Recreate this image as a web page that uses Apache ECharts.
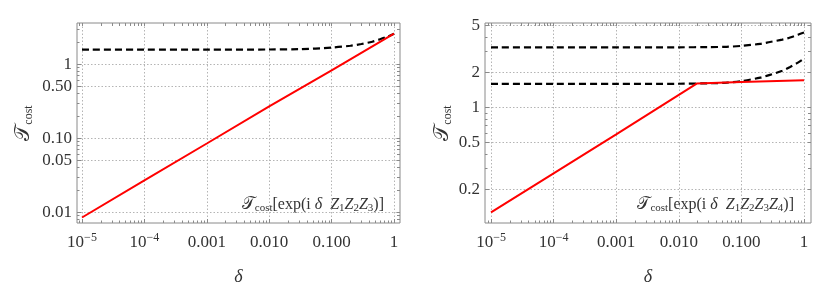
<!DOCTYPE html>
<html><head><meta charset="utf-8">
<script src="https://cdn.jsdelivr.net/npm/echarts@6/dist/echarts.min.js"></script>
<style>html,body{margin:0;padding:0;background:#fff}#c{width:830px;height:300px}</style>
</head><body><div id="c"></div>
<script>
// ---- tick definitions ----
const xTicks = [1e-5, 1e-4, 1e-3, 1e-2, 0.1, 1];
const xTickLabels = ['10{s|\u22125}', '10{s|\u22124}', '0.001', '0.010', '0.100', '1'];
const yTicksL = [0.01, 0.05, 0.1, 0.5, 1];
const yTickLabelsL = ['0.01', '0.05', '0.10', '0.50', '1'];
const yTicksR = [0.2, 0.5, 1, 2, 5];
const yTickLabelsR = ['0.2', '0.5', '1', '2', '5'];

// ---- data ----
const deltaRedL = [1e-5, 1e-4, 1e-3, 1e-2, 0.1, 1];
const costRedL = [0.0085, 0.027, 0.085, 0.27, 0.83, 2.6];
const deltaDashL = [1e-5, 1e-4, 1e-3, 1e-2, 0.03, 0.1, 0.2, 0.3, 0.45, 0.6, 0.8, 1];
const costDashL = [1.58, 1.58, 1.58, 1.585, 1.60, 1.68, 1.78, 1.88, 2.02, 2.18, 2.38, 2.58];

const deltaRedR = [1e-5, 1e-4, 1e-3, 0.0193, 0.1, 1];
const costRedR = [0.127, 0.274, 0.59, 1.60, 1.65, 1.71];
const deltaDashR = [1e-5, 1e-4, 1e-3, 1e-2, 0.03, 0.058, 0.1, 0.2, 0.286, 0.45, 0.6, 0.8, 1];
const costDashR1 = [1.59, 1.59, 1.59, 1.595, 1.61, 1.63, 1.68, 1.80, 1.90, 2.06, 2.22, 2.42, 2.62];
const costDashR2 = [3.27, 3.27, 3.27, 3.27, 3.28, 3.30, 3.36, 3.50, 3.63, 3.80, 3.96, 4.18, 4.37];

const FONT = '"Liberation Serif", "DejaVu Serif", serif';
const GRIDC = '#b4b4b4';
const FRAMEC = '#8a8a8a';
const LABC = '#333';

function minorTicks(lo, hi) {
  const out = [];
  for (let e = lo; e <= hi; e++) for (let k = 2; k <= 9; k++) out.push(k * Math.pow(10, e));
  return out;
}
const xMinor = minorTicks(-6, 0);
const yMinor = minorTicks(-3, 0);

function fmt(vals, labs) {
  return function (v) {
    for (let i = 0; i < vals.length; i++) if (Math.abs(v / vals[i] - 1) < 1e-6) return labs[i];
    for (let i = 0; i < vals.length; i++) if (Math.abs(Math.pow(10, v) / vals[i] - 1) < 1e-6) return labs[i];
    return '';
  };
}
function pairs(xs, ys) { return xs.map((x, i) => [x, ys[i]]); }

const grids = [
  { left: 77, top: 23, width: 323, height: 200, show: true, borderColor: FRAMEC, borderWidth: 1 },
  { left: 485, top: 23, width: 326, height: 200, show: true, borderColor: FRAMEC, borderWidth: 1 }
];
const xExt = [[Math.pow(10, -5.08), Math.pow(10, 0.096)], [Math.pow(10, -5.096), Math.pow(10, 0.112)]];
const yExt = [[Math.pow(10, -2.145), Math.pow(10, 0.558)], [Math.pow(10, -0.987), Math.pow(10, 0.722)]];

const dotted = { type: [1.5, 2], color: GRIDC, width: 1 };

const xAxes = [], yAxes = [];
[0, 1].forEach(g => {
  xAxes.push({
    type: 'log', logBase: 10, gridIndex: g, min: xExt[g][0], max: xExt[g][1], position: 'bottom',
    axisLine: { show: false },
    axisTick: { show: true, inside: true, length: 4, customValues: xTicks, lineStyle: { color: FRAMEC } },
    axisLabel: { customValues: xTicks, formatter: fmt(xTicks, xTickLabels), fontFamily: FONT, fontSize: 17, color: LABC, margin: 9,
      lineHeight: 22, rich: { s: { fontFamily: FONT, fontSize: 12, color: LABC, verticalAlign: 'top', lineHeight: 12 } } },
    splitLine: { show: true, lineStyle: dotted },
    name: 'δ', nameLocation: 'middle', nameGap: 45,
    nameTextStyle: { fontFamily: FONT, fontStyle: 'italic', fontSize: 18, color: LABC }
  });
  xAxes.push({
    type: 'log', logBase: 10, gridIndex: g, min: xExt[g][0], max: xExt[g][1], position: 'bottom',
    axisLine: { show: false },
    axisTick: { show: true, inside: true, length: 2.5, customValues: xMinor, lineStyle: { color: FRAMEC } },
    axisLabel: { show: false }, splitLine: { show: false }
  });
  xAxes.push({
    type: 'log', logBase: 10, gridIndex: g, min: xExt[g][0], max: xExt[g][1], position: 'top',
    axisLine: { show: false },
    axisTick: { show: true, inside: true, length: 3, customValues: xTicks.concat(xMinor), lineStyle: { color: FRAMEC } },
    axisLabel: { show: false }, splitLine: { show: false }
  });
  const yt = g === 0 ? yTicksL : yTicksR;
  const yl = g === 0 ? yTickLabelsL : yTickLabelsR;
  yAxes.push({
    type: 'log', logBase: 10, gridIndex: g, min: yExt[g][0], max: yExt[g][1], position: 'left',
    axisLine: { show: false },
    axisTick: { show: true, inside: true, length: 4, customValues: yt, lineStyle: { color: FRAMEC } },
    axisLabel: { customValues: yt, formatter: fmt(yt, yl), fontFamily: FONT, fontSize: 17, color: LABC, margin: 5 },
    splitLine: { show: true, lineStyle: dotted },
    name: '{T|\u{1D4AF}}{c|cost}', nameLocation: 'middle', nameRotate: 90, nameGap: g === 0 ? 42 : 31,
    nameTextStyle: { fontFamily: FONT, fontSize: 18, color: LABC, lineHeight: 24,
      rich: { T: { fontFamily: FONT, fontSize: 21, color: LABC, lineHeight: 24 },
              c: { fontFamily: FONT, fontSize: 12, color: LABC, verticalAlign: 'bottom', lineHeight: 14 } } }
  });
  yAxes.push({
    type: 'log', logBase: 10, gridIndex: g, min: yExt[g][0], max: yExt[g][1], position: 'left',
    axisLine: { show: false },
    axisTick: { show: true, inside: true, length: 2.5, customValues: yMinor, lineStyle: { color: FRAMEC } },
    axisLabel: { show: false }, splitLine: { show: false }
  });
  yAxes.push({
    type: 'log', logBase: 10, gridIndex: g, min: yExt[g][0], max: yExt[g][1], position: 'right',
    axisLine: { show: false },
    axisTick: { show: true, inside: true, length: 3, customValues: yt.concat(yMinor), lineStyle: { color: FRAMEC } },
    axisLabel: { show: false }, splitLine: { show: false }
  });
});

function line(g, xs, ys, dashed) {
  return {
    type: 'line', xAxisIndex: g * 3, yAxisIndex: g * 3, data: pairs(xs, ys),
    showSymbol: false, symbol: 'none', smooth: dashed ? 0.3 : false, silent: true, animation: false,
    lineStyle: dashed ? { color: '#000', width: 2.2, type: [7, 4] } : { color: '#ff0000', width: 2 }
  };
}

const annRich = {
  T: { fontFamily: FONT, fontSize: 17, color: LABC },
  b: { fontFamily: FONT, fontSize: 11, color: LABC, verticalAlign: 'bottom', lineHeight: 12 },
  i: { fontFamily: FONT, fontSize: 16, fontStyle: 'italic', color: LABC },
  n: { fontFamily: FONT, fontSize: 16, color: LABC }
};

const option = {
  backgroundColor: '#fff',
  animation: false,
  grid: grids,
  xAxis: xAxes,
  yAxis: yAxes,
  series: [
    line(0, deltaDashL, costDashL, true),
    line(0, deltaRedL, costRedL, false),
    line(1, deltaDashR, costDashR2, true),
    line(1, deltaDashR, costDashR1, true),
    line(1, deltaRedR, costRedR, false)
  ],
  graphic: [
    { type: 'text', x: 384, y: 205, silent: true, style: {
        text: '{T|\u{1D4AF}}{b|cost}{n|[exp(i }{i|δ}{n|  }{i|Z}{b|1}{i|Z}{b|2}{i|Z}{b|3}{n|)]}',
        align: 'right', verticalAlign: 'middle', rich: annRich, fill: LABC, fontFamily: FONT, fontSize: 16 } },
    { type: 'text', x: 794, y: 205, silent: true, style: {
        text: '{T|\u{1D4AF}}{b|cost}{n|[exp(i }{i|δ}{n|  }{i|Z}{b|1}{i|Z}{b|2}{i|Z}{b|3}{i|Z}{b|4}{n|)]}',
        align: 'right', verticalAlign: 'middle', rich: annRich, fill: LABC, fontFamily: FONT, fontSize: 16 } }
  ]
};
const chart = echarts.init(document.getElementById('c'), null, { renderer: 'canvas' });
chart.setOption(option);
</script>
</body></html>
